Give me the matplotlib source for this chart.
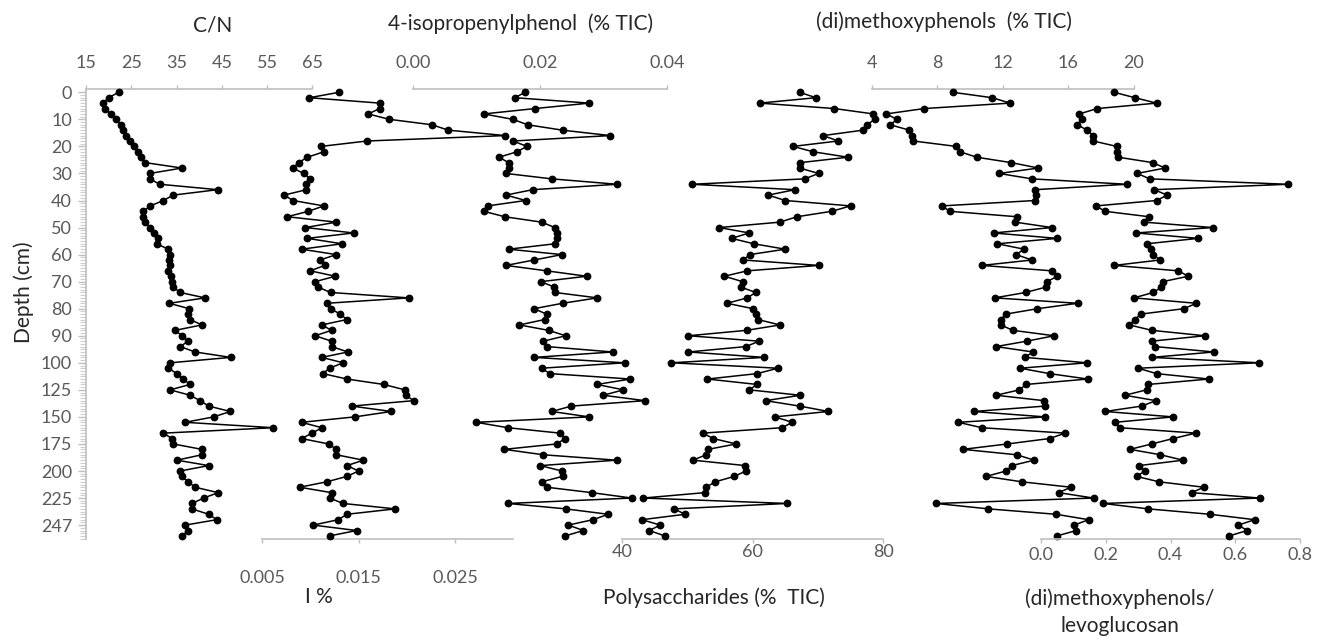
import matplotlib
matplotlib.use("Agg")
import matplotlib.pyplot as plt
import numpy as np

# ---------------- data ----------------
depth_labels = [0, 10, 20, 30, 40, 50, 60, 70, 80, 90, 100, 125, 150, 175, 200, 225, 247]
n_samples = 83
sample = np.arange(n_samples)          # sample position down the core

cn = [22.2, 20.0, 18.8, 19.1, 20.5, 21.7, 22.7, 23.2, 23.9, 24.7, 25.6, 26.4, 27.1, 28.1,
      36.2, 29.1, 29.1, 31.3, 44.1, 34.3, 32.1, 29.2, 27.7, 27.6, 28.1, 29.2, 30.0, 31.0,
      30.6, 33.2, 33.6, 33.4, 33.6, 33.2, 33.7, 33.9, 34.3, 35.8, 41.3, 33.4, 37.8, 37.6,
      38.0, 40.6, 34.7, 36.2, 37.6, 35.8, 39.1, 47.0, 33.6, 33.2, 35.1, 36.5, 38.0, 33.6,
      38.0, 40.2, 42.1, 46.9, 43.2, 36.9, 56.4, 32.1, 34.0, 34.3, 40.6, 40.6, 35.1, 42.1,
      35.8, 36.2, 37.6, 39.1, 44.2, 41.0, 38.4, 38.4, 42.1, 43.9, 36.9, 37.6, 36.2]

i_pct = [0.0130, 0.0099, 0.0172, 0.0172, 0.0160, 0.0182, 0.0226, 0.0243, 0.0302, 0.0159, 0.0111, 0.0114, 0.0097, 0.0088,
         0.0082, 0.0093, 0.0100, 0.0096, 0.0096, 0.0073, 0.0082, 0.0114, 0.0098, 0.0076, 0.0127, 0.0095, 0.0145, 0.0097,
         0.0133, 0.0091, 0.0127, 0.0110, 0.0115, 0.0100, 0.0126, 0.0105, 0.0108, 0.0121, 0.0202, 0.0117, 0.0121, 0.0131,
         0.0138, 0.0112, 0.0122, 0.0105, 0.0122, 0.0122, 0.0139, 0.0112, 0.0134, 0.0120, 0.0113, 0.0138, 0.0176, 0.0198,
         0.0199, 0.0207, 0.0143, 0.0184, 0.0146, 0.0091, 0.0112, 0.0102, 0.0091, 0.0119, 0.0127, 0.0127, 0.0155, 0.0138,
         0.0150, 0.0138, 0.0117, 0.0089, 0.0122, 0.0120, 0.0134, 0.0188, 0.0138, 0.0129, 0.0103, 0.0148, 0.0120]

isopropenylphenol = [0.0176, 0.0160, 0.0277, 0.0192, 0.0111, 0.0157, 0.0180, 0.0235, 0.0310, 0.0157, 0.0179, 0.0163, 0.0135, 0.0150,
                     0.0150, 0.0146, 0.0218, 0.0321, 0.0188, 0.0146, 0.0177, 0.0117, 0.0111, 0.0144, 0.0202, 0.0223, 0.0226, 0.0226,
                     0.0223, 0.0150, 0.0234, 0.0190, 0.0146, 0.0210, 0.0273, 0.0201, 0.0222, 0.0223, 0.0290, 0.0235, 0.0190, 0.0210,
                     0.0207, 0.0167, 0.0213, 0.0240, 0.0205, 0.0210, 0.0314, 0.0190, 0.0333, 0.0202, 0.0215, 0.0342, 0.0289, 0.0331,
                     0.0299, 0.0365, 0.0249, 0.0218, 0.0277, 0.0099, 0.0149, 0.0231, 0.0239, 0.0226, 0.0143, 0.0205, 0.0320, 0.0200,
                     0.0234, 0.0235, 0.0202, 0.0210, 0.0281, 0.0344, 0.0149, 0.0240, 0.0307, 0.0283, 0.0244, 0.0268, 0.0239]

polysaccharides = [67.2, 69.7, 61.1, 72.5, 78.5, 78.7, 77.5, 76.9, 70.8, 73.1, 66.2, 69.3, 74.6, 67.3,
                   67.2, 70.1, 68.0, 50.7, 66.5, 62.4, 65.0, 75.0, 72.1, 66.8, 64.2, 54.9, 59.5, 56.8,
                   60.2, 65.0, 59.6, 58.6, 70.1, 59.2, 55.7, 58.5, 58.2, 60.5, 59.2, 56.1, 60.1, 60.6,
                   60.8, 64.2, 59.1, 50.2, 61.0, 59.0, 50.2, 61.8, 47.6, 63.9, 60.7, 53.1, 60.7, 59.5,
                   67.3, 62.0, 67.2, 71.6, 63.4, 66.1, 64.5, 52.4, 54.0, 57.5, 53.2, 52.9, 50.9, 58.9,
                   59.0, 57.2, 54.3, 52.9, 52.7, 43.3, 65.3, 48.0, 49.7, 43.1, 45.9, 44.2, 46.6]

methoxyphenols = [8.95, 11.35, 12.45, 7.21, 4.87, 5.56, 5.12, 6.30, 6.48, 6.54, 9.15, 9.39, 10.41, 12.51,
                  14.17, 11.77, 13.77, 19.57, 13.97, 14.03, 13.97, 8.27, 8.78, 12.85, 12.75, 14.99, 11.43, 15.30,
                  11.67, 13.30, 12.81, 13.77, 10.72, 14.99, 15.33, 14.69, 14.64, 13.39, 11.50, 16.56, 14.11, 12.18,
                  11.87, 11.87, 12.61, 15.13, 13.46, 11.59, 13.83, 13.36, 17.13, 13.06, 14.85, 17.17, 13.42, 13.01,
                  11.59, 14.52, 14.58, 10.21, 14.58, 9.29, 10.72, 15.80, 14.85, 12.28, 9.56, 12.85, 13.91, 12.55,
                  12.20, 10.98, 13.16, 16.15, 15.40, 17.53, 7.93, 11.12, 15.25, 17.23, 16.35, 16.48, 15.30]

methoxy_levoglucosan = [0.226, 0.290, 0.357, 0.174, 0.118, 0.126, 0.112, 0.143, 0.161, 0.161, 0.234, 0.236, 0.239, 0.345,
                        0.383, 0.297, 0.336, 0.763, 0.349, 0.390, 0.357, 0.170, 0.198, 0.334, 0.318, 0.530, 0.293, 0.486,
                        0.326, 0.339, 0.347, 0.367, 0.226, 0.424, 0.455, 0.376, 0.372, 0.347, 0.287, 0.480, 0.441, 0.308,
                        0.290, 0.273, 0.342, 0.506, 0.342, 0.352, 0.534, 0.342, 0.674, 0.300, 0.357, 0.519, 0.331, 0.326,
                        0.259, 0.355, 0.311, 0.198, 0.408, 0.228, 0.244, 0.478, 0.408, 0.342, 0.275, 0.369, 0.439, 0.303,
                        0.321, 0.295, 0.365, 0.503, 0.465, 0.676, 0.192, 0.331, 0.522, 0.660, 0.609, 0.637, 0.581]

cn_ticks = [15, 25, 35, 45, 55, 65]
i_ticks = [0.005, 0.015, 0.025]
iso_ticks = [0.00, 0.02, 0.04]
poly_ticks = [40, 60, 80]
meth_ticks = [4, 8, 12, 16, 20]
ratio_ticks = [0.0, 0.2, 0.4, 0.6, 0.8]

# ---------------- layout / style ----------------
W, H = 1333, 644
Y_TOP, Y_BOT = 89.3, 539.0
Y0, DY = 92.3, 5.41                      # pixel of first sample, pixel step
YLIM = ((Y_BOT - Y0) / DY, (Y_TOP - Y0) / DY)

FONT = ["Lato", "DejaVu Sans"]
plt.rcParams["font.family"] = FONT
TICK_COLOR = "#595959"
AXIS_COLOR = "#bfbfbf"
TITLE_COLOR = "#262626"
TICK_FS = 13
TITLE_FS = 15

fig = plt.figure(figsize=(W / 100, H / 100), dpi=100)


def fx(px):
    return px / W


def fy(py):
    return 1 - py / H


def panel(values, x0, x1, xlim, ticks, fmt, side, pad):
    ax = fig.add_axes([fx(x0), fy(Y_BOT), fx(x1) - fx(x0), fy(Y_TOP) - fy(Y_BOT)])
    ax.patch.set_alpha(0)
    ax.set_xlim(*xlim)
    ax.set_ylim(*YLIM)
    for s in ax.spines.values():
        s.set_visible(False)
    ax.spines[side].set_visible(True)
    ax.spines[side].set_color(AXIS_COLOR)
    ax.spines[side].set_linewidth(1.2)
    ax.xaxis.set_ticks_position(side)
    ax.xaxis.set_label_position(side)
    ax.set_xticks(ticks)
    ax.set_xticklabels([fmt.format(t) for t in ticks])
    ax.tick_params(axis="x", direction="out", length=3, width=1, color=AXIS_COLOR,
                   labelcolor=TICK_COLOR, labelsize=TICK_FS, pad=pad)
    ax.set_yticks([])
    ax.plot(values, sample, color="black", lw=1.1, marker="o", markersize=4.6,
            markerfacecolor="black", markeredgecolor="black", clip_on=False, zorder=3)
    return ax


ax_cn = panel(cn, 86, 312.3, (15, 65), cn_ticks, "{:.0f}", "top", 10)
ax_i = panel(i_pct, 262, 513, (0.005, 0.031), i_ticks, "{:.3f}", "bottom", 19)
ax_iso = panel(isopropenylphenol, 413.3, 667.3, (0.0, 0.04), iso_ticks, "{:.2f}", "top", 10)
ax_poly = panel(polysaccharides, 621.7, 883.3, (40, 80), poly_ticks, "{:.0f}", "bottom", 0.5)
ax_meth = panel(methoxyphenols, 871.7, 1134.0, (4, 20), meth_ticks, "{:.0f}", "top", 10)
ax_rat = panel(methoxy_levoglucosan, 1041, 1300, (0.0, 0.8), ratio_ticks, "{:.1f}", "bottom", 3)

# depth axis on the C/N panel
ax_cn.spines["left"].set_visible(True)
ax_cn.spines["left"].set_color(AXIS_COLOR)
ax_cn.spines["left"].set_linewidth(1.2)
ax_cn.yaxis.set_ticks_position("left")
ax_cn.set_yticks(np.arange(len(depth_labels)) * 5)
ax_cn.set_yticklabels([str(d) for d in depth_labels])
ax_cn.set_yticks(np.arange(0, n_samples + 0.5, 0.5), minor=True)
ax_cn.tick_params(axis="y", which="major", direction="out", length=6, width=1,
                  color=AXIS_COLOR, labelcolor=TICK_COLOR, labelsize=TICK_FS, pad=4)
ax_cn.tick_params(axis="y", which="minor", direction="out", length=4, width=0.8,
                  color="#d0d0d0")
ax_cn.set_ylim(*YLIM)

# titles
def label(px, py, s, **kw):
    fig.text(fx(px), fy(py), s, ha="center", va="center", color=TITLE_COLOR,
             fontsize=TITLE_FS, **kw)

label(213, 25, "C/N")
label(521, 24, "4-isopropenylphenol  (% TIC)")
label(944, 22, "(di)methoxyphenols  (% TIC)")
label(319, 597, "I %")
label(714, 598, "Polysaccharides (%  TIC)")
label(1120, 599, "(di)methoxyphenols/")
label(1120, 626, "levoglucosan")
label(24, 292, "Depth (cm)", rotation=90)

fig.savefig("out.png", dpi=100)
